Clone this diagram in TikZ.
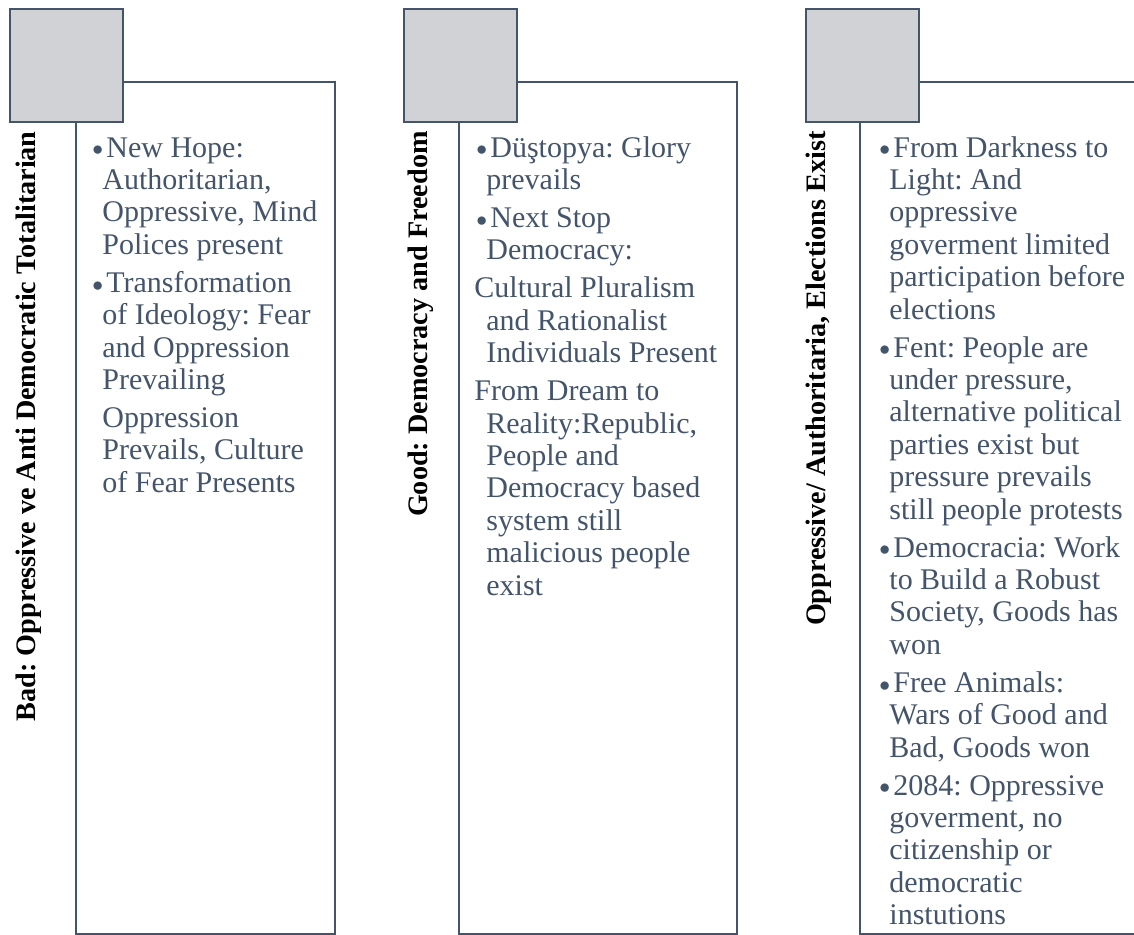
\documentclass[tikz,border=0pt]{standalone}
\usepackage{fontspec}
\setmainfont{Liberation Serif}
\usepackage{tikz}
\usetikzlibrary{positioning}
\definecolor{slate}{HTML}{44546A}
\definecolor{tabgray}{HTML}{D0D2D6}
\tikzset{
  panel/.style={draw=slate, line width=1pt},
  tab/.style={draw=slate, fill=tabgray, line width=1.2pt, minimum size=56.5pt, inner sep=0pt, anchor=north west},
  heading/.style={rotate=90, anchor=east, inner sep=0pt, font=\bfseries\fontsize{14.1}{15}\selectfont},
  body/.style={anchor=north west, align=left, inner sep=0pt, text=slate, font=\fontsize{15}{16.2}\selectfont}
}
\newcommand{\blt}{\makebox[8pt][l]{\hspace{1pt}\raisebox{0.6pt}{\scalebox{0.75}{$\bullet$}}}}
\newcommand{\ind}{\hspace*{6pt}}
\newcommand{\gap}{\\[2.8pt]}
\frenchspacing

\begin{document}
\begin{tikzpicture}[x=0.5pt, y=-0.5pt]
  \useasboundingbox (0,0) rectangle (1134,935);

  % left column
  \draw[panel] (76,82) rectangle (335,934);
  \node[tab] (tab1) at (9,8) {};
  \node[heading] (head1) at (29,131) {Bad: Oppressive ve Anti Democratic Totalitarian};
  \node[body] (list1) at (90,134) {\strut\blt New Hope:\\
    \ind Authoritarian,\\
    \ind Oppressive, Mind\\
    \ind Polices present\gap
    \blt Transformation\\
    \ind of Ideology: Fear\\
    \ind and Oppression\\
    \ind Prevailing\gap
    \ind Oppression\\
    \ind Prevails, Culture\\
    \ind of Fear Presents};

  % middle column
  \draw[panel] (459,82) rectangle (737,934);
  \node[tab] (tab2) at (403,8) {};
  \node[heading] (head2) at (421,131) {Good: Democracy and Freedom};
  \node[body] (list2) at (474,134) {\strut\blt Düştopya: Glory\\
    \ind prevails\gap
    \blt Next Stop\\
    \ind Democracy:\gap
    Cultural Pluralism\\
    \ind and Rationalist\\
    \ind Individuals Present\gap
    From Dream to\\
    \ind Reality:Republic,\\
    \ind People and\\
    \ind Democracy based\\
    \ind system still\\
    \ind malicious people\\
    \ind exist};

  % right column
  \draw[panel] (860,82) rectangle (1145,934);
  \node[tab] (tab3) at (805,8) {};
  \node[heading] (head3) at (819,131) {Oppressive/ Authoritaria, Elections Exist};
  \node[body] (list3) at (877,134) {\strut\blt From Darkness to\\
    \ind Light: And\\
    \ind oppressive\\
    \ind goverment limited\\
    \ind participation before\\
    \ind elections\gap
    \blt Fent: People are\\
    \ind under pressure,\\
    \ind alternative political\\
    \ind parties exist but\\
    \ind pressure prevails\\
    \ind still people protests\gap
    \blt Democracia: Work\\
    \ind to Build a Robust\\
    \ind Society, Goods has\\
    \ind won\gap
    \blt Free Animals:\\
    \ind Wars of Good and\\
    \ind Bad, Goods won\gap
    \blt 2084: Oppressive\\
    \ind goverment, no\\
    \ind citizenship or\\
    \ind democratic\\
    \ind instutions};
\end{tikzpicture}
\end{document}
